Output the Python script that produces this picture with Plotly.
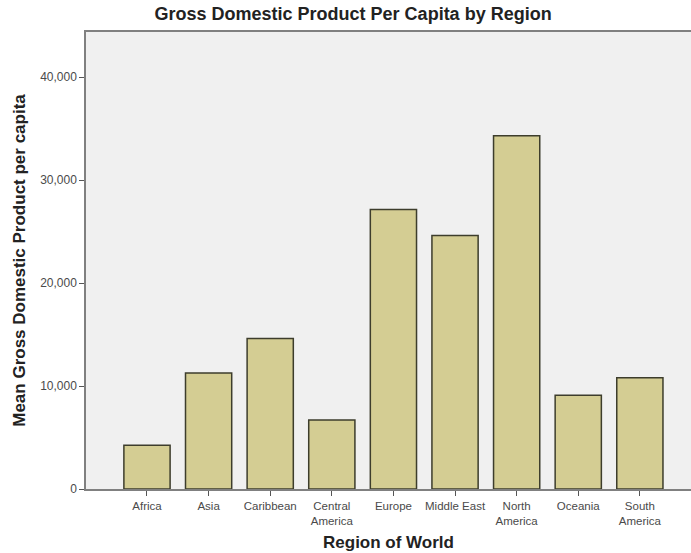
import plotly.graph_objects as go

regions = ["Africa", "Asia", "Caribbean", "Central<br>America", "Europe",
           "Middle East", "North<br>America", "Oceania", "South<br>America"]
gdp_per_capita = [4250, 11270, 14620, 6700, 27150, 24640, 34330, 9110, 10820]
y_ticks = [0, 10000, 20000, 30000, 40000]
y_tick_labels = ["0", "10,000", "20,000", "30,000", "40,000"]

fig = go.Figure(go.Bar(
    x=regions, y=gdp_per_capita,
    marker=dict(color="#d4cd93", line=dict(color="#3d3d2c", width=1.5)),
    width=0.75,
))

font_family = "Liberation Sans, Arial, sans-serif"
fig.update_layout(
    width=691, height=553,
    margin=dict(l=86, r=0, t=32, b=64),
    paper_bgcolor="white", plot_bgcolor="#f0f0f0",
    showlegend=False,
    title=dict(text="<b>Gross Domestic Product Per Capita by Region</b>",
               x=0.511, xanchor="center", y=0.975, yanchor="middle",
               font=dict(family=font_family, size=18, color="#222")),
    font=dict(family=font_family),
)
fig.update_xaxes(
    range=[-0.99, 8.83], showgrid=False, automargin=False,
    showline=True, mirror=True, linecolor="#808080", linewidth=1.5,
    ticks="outside", ticklen=5, tickcolor="#555", tickwidth=1,
    tickfont=dict(family=font_family, size=11.5, color="#4a4a4a"),
    title=dict(text="<b>Region of World</b>", standoff=11,
               font=dict(family=font_family, size=17, color="#222")),
)
fig.update_yaxes(
    range=[0, 44400], showgrid=False, zeroline=False, automargin=False,
    showline=True, linecolor="#808080", linewidth=1.5,
    tickvals=y_ticks, ticktext=y_tick_labels,
    ticks="outside", ticklen=5, tickcolor="#555", tickwidth=1,
    tickfont=dict(family=font_family, size=12, color="#4a4a4a"),
    title=dict(text="<b>Mean Gross Domestic Product per capita</b>", standoff=10,
               font=dict(family=font_family, size=17, color="#222")),
)

fig.write_html("out.html", config={"displayModeBar": False},
               post_script="document.body.style.margin='0';")
